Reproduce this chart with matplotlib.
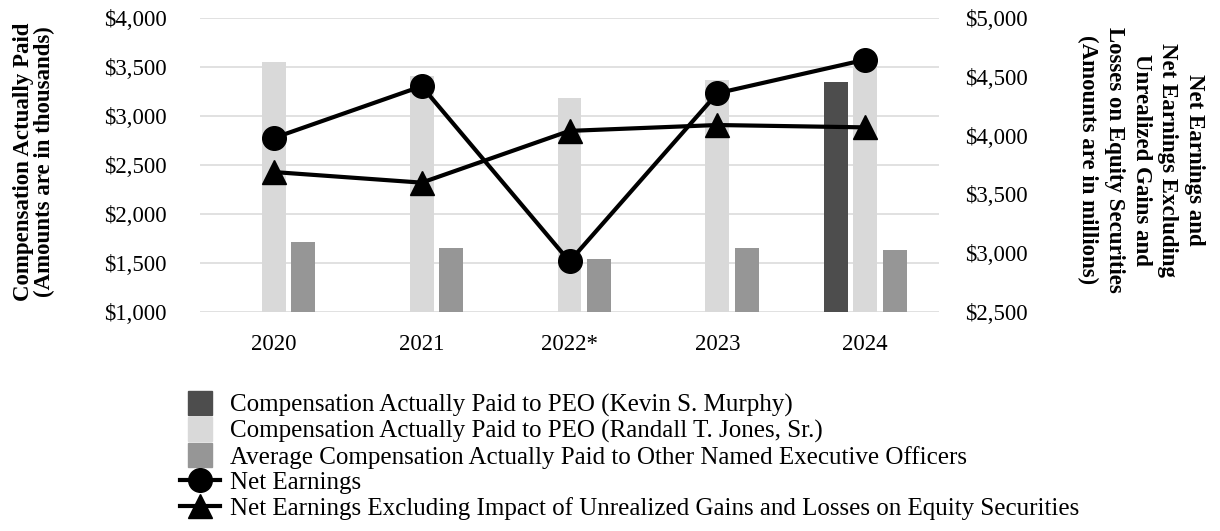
import numpy as np
import matplotlib
matplotlib.use("Agg")
import matplotlib.pyplot as plt
from matplotlib.patches import Rectangle, Patch
from matplotlib.lines import Line2D
from matplotlib.legend_handler import HandlerPatch

plt.rcParams['font.family'] = ['Liberation Serif', 'DejaVu Serif']

years = ["2020", "2021", "2022*", "2023", "2024"]
# compensation actually paid, thousands (left axis)
cap_murphy = [None, None, None, None, 3350]
cap_jones = [3550, 3410, 3185, 3370, 3560]
cap_other_neo = [1715, 1650, 1545, 1650, 1630]
# earnings, millions (right axis)
net_earnings = [3980, 4420, 2930, 4360, 4645]
net_earnings_excl = [3690, 3600, 4040, 4090, 4070]

left_ticks = [1000, 1500, 2000, 2500, 3000, 3500, 4000]
right_ticks = [2500, 3000, 3500, 4000, 4500, 5000]

c_dark = "#4d4d4d"
c_light = "#d9d9d9"
c_mid = "#969696"
fs = 16.5

fig = plt.figure(figsize=(12.2, 5.31), dpi=100)
ax = fig.add_axes([200/1220, 1 - 312/531, 739/1220, 294/531])
ax2 = ax.twinx()

x = np.arange(len(years))
w = 0.162
xm = [i for i, v in enumerate(cap_murphy) if v is not None]
ax.bar([i - 0.2 for i in xm], [cap_murphy[i] for i in xm], w, color=c_dark, zorder=3)
ax.bar(x, cap_jones, w, color=c_light, zorder=3)
ax.bar(x + 0.2, cap_other_neo, w, color=c_mid, zorder=3)

ax2.plot(x, net_earnings, color="black", lw=3, marker="o", ms=17)
ax2.plot(x, net_earnings_excl, color="black", lw=3, marker="^", ms=17)

ax.set_xlim(-0.5, len(years) - 0.5)
ax.set_ylim(1000, 4000)
ax2.set_ylim(2500, 5000)
ax.set_yticks(left_ticks)
ax.set_yticklabels([f"${v:,}" for v in left_ticks])
ax2.set_yticks(right_ticks)
ax2.set_yticklabels([f"${v:,}" for v in right_ticks])
ax.set_xticks(x)
ax.set_xticklabels(years)

ax.grid(axis="y", color="#dedede", lw=1.3, zorder=0)
ax.set_axisbelow(True)
for a in (ax, ax2):
    for s in a.spines.values():
        s.set_visible(False)
ax.tick_params(axis="y", length=0, pad=24, labelsize=fs)
ax.tick_params(axis="x", length=0, pad=16, labelsize=fs)
ax2.tick_params(axis="y", length=0, pad=19, labelsize=fs)

fig.text(34/1220, 1 - 162/531, "Compensation Actually Paid\n(Amounts are in thousands)",
         rotation=90, ha="center", va="center", fontsize=16.5, fontweight="bold",
         linespacing=1.05)
fig.text(1141/1220, 1 - 160/531,
         "Net Earnings and\nNet Earnings Excluding\nUnrealized Gains and\n"
         "Losses on Equity Securities\n(Amounts are in millions)",
         rotation=-90, ha="center", va="center", fontsize=16.5, fontweight="bold",
         linespacing=1.35, multialignment="center")


def square(legend, orig_handle, xdescent, ydescent, width, height, fontsize):
    s = fontsize * 0.95
    return Rectangle((-xdescent + (width - s) / 2, -ydescent + (height - s) / 2), s, s)


handles = [
    Patch(color=c_dark), Patch(color=c_light), Patch(color=c_mid),
    Line2D([], [], color="black", lw=3, marker="o", ms=17),
    Line2D([], [], color="black", lw=3, marker="^", ms=17),
]
labels = [
    "Compensation Actually Paid to PEO (Kevin S. Murphy)",
    "Compensation Actually Paid to PEO (Randall T. Jones, Sr.)",
    "Average Compensation Actually Paid to Other Named Executive Officers",
    "Net Earnings",
    "Net Earnings Excluding Impact of Unrealized Gains and Losses on Equity Securities",
]
fig.legend(handles, labels, loc="upper left", bbox_to_anchor=(180/1220, 1 - 394/531),
           frameon=False, borderpad=0, borderaxespad=0, fontsize=18,
           handlelength=1.6, handletextpad=0.4, labelspacing=0.11,
           handler_map={Patch: HandlerPatch(patch_func=square)})

fig.savefig("out.png", dpi=100)
